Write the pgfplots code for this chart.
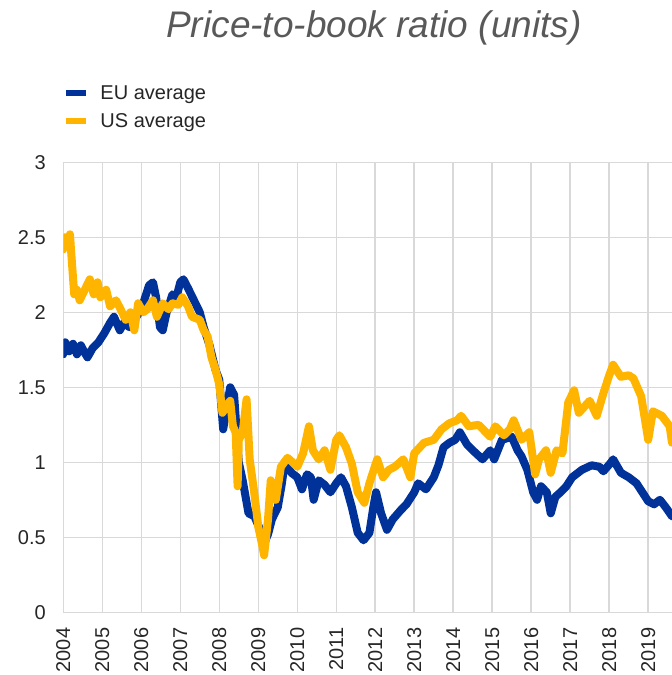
\documentclass[border=0pt]{standalone}
\usepackage{pgfplots}
\pgfplotsset{compat=1.18}
\usepackage{fontspec}
\setmainfont{Liberation Sans}
\definecolor{eublue}{HTML}{003299}
\definecolor{usyellow}{HTML}{FFB400}
\definecolor{gridgray}{HTML}{D9D9D9}
\definecolor{textgray}{HTML}{262626}
\definecolor{titlegray}{HTML}{595959}
\begin{document}
\begin{tikzpicture}
\path[use as bounding box] (-63.3bp,-62.7bp) rectangle (608.7bp,612.3bp);
\begin{axis}[
  at={(0,0)}, anchor=south west,
  scale only axis,
  width=608.7bp, height=450bp,
  xmin=2004, xmax=2019.61,
  ymin=0, ymax=3,
  xtick={2004,2005,...,2019},
  ytick={0,0.5,1,1.5,2,2.5,3},
  /pgf/number format/1000 sep={},
  /pgf/number format/assume math mode=true,
  axis x line=bottom, axis y line=left,
  axis line style={draw=gridgray, line width=1.5bp, -},
  grid=major,
  major grid style={draw=gridgray, line width=1.5bp},
  major tick length=0pt,
  tick label style={font=\fontsize{20bp}{24bp}\selectfont, text=textgray},
  yticklabel shift=14bp,
  xticklabel shift=12bp,
  xticklabel style={rotate=90, anchor=east},
  legend style={at={(0,1.176)}, anchor=north west, draw=none, fill=none,
    font=\fontsize{20bp}{24bp}\selectfont, text=textgray, row sep=9bp, inner sep=0pt,
    /tikz/every odd column/.append style={column sep=9bp}},
  legend cell align=left,
  legend image code/.code={\draw[#1, line width=6bp, line cap=butt] (0bp,0bp) -- (20bp,0bp);},
  every axis plot/.append style={line width=8bp, line join=round, line cap=round},
]
\addplot[eublue] table {
2004.00 1.72
2004.05 1.80
2004.15 1.74
2004.25 1.79
2004.35 1.72
2004.45 1.78
2004.55 1.73
2004.62 1.70
2004.75 1.76
2004.90 1.80
2005.05 1.86
2005.20 1.93
2005.30 1.97
2005.45 1.88
2005.55 1.93
2005.70 1.90
2005.85 1.96
2006.00 2.02
2006.10 2.10
2006.20 2.18
2006.30 2.20
2006.38 2.10
2006.48 1.90
2006.55 1.88
2006.65 2.00
2006.80 2.12
2006.90 2.10
2007.00 2.20
2007.08 2.22
2007.20 2.16
2007.35 2.08
2007.50 2.00
2007.60 1.90
2007.75 1.78
2007.90 1.62
2008.00 1.55
2008.10 1.22
2008.18 1.35
2008.28 1.50
2008.38 1.45
2008.50 1.00
2008.60 0.88
2008.75 0.66
2008.90 0.64
2009.05 0.55
2009.15 0.46
2009.25 0.52
2009.35 0.62
2009.50 0.70
2009.60 0.85
2009.68 1.00
2009.85 0.93
2010.00 0.90
2010.12 0.82
2010.25 0.92
2010.35 0.90
2010.42 0.75
2010.55 0.88
2010.70 0.85
2010.85 0.80
2011.00 0.86
2011.12 0.90
2011.25 0.84
2011.40 0.70
2011.55 0.53
2011.70 0.48
2011.85 0.53
2011.95 0.70
2012.02 0.80
2012.15 0.66
2012.30 0.55
2012.45 0.62
2012.65 0.68
2012.80 0.72
2013.00 0.80
2013.10 0.86
2013.30 0.82
2013.50 0.90
2013.62 0.98
2013.75 1.10
2013.90 1.13
2014.05 1.15
2014.17 1.20
2014.35 1.12
2014.50 1.08
2014.75 1.02
2014.95 1.08
2015.05 1.02
2015.25 1.15
2015.50 1.17
2015.65 1.08
2015.75 1.04
2015.90 0.95
2016.05 0.80
2016.15 0.75
2016.25 0.84
2016.40 0.80
2016.50 0.66
2016.62 0.77
2016.75 0.80
2016.90 0.84
2017.05 0.90
2017.30 0.95
2017.55 0.98
2017.75 0.97
2017.85 0.94
2018.05 1.00
2018.10 1.02
2018.30 0.93
2018.50 0.90
2018.70 0.86
2018.85 0.80
2019.00 0.74
2019.15 0.72
2019.30 0.75
2019.45 0.70
2019.61 0.64
};
\addlegendentry{EU average}
\addplot[usyellow] table {
2004.00 2.42
2004.05 2.50
2004.12 2.47
2004.17 2.52
2004.23 2.30
2004.28 2.12
2004.35 2.15
2004.42 2.08
2004.55 2.15
2004.68 2.22
2004.78 2.12
2004.88 2.20
2004.95 2.10
2005.10 2.15
2005.20 2.04
2005.35 2.08
2005.45 2.03
2005.60 1.95
2005.72 2.00
2005.82 1.88
2005.92 2.06
2006.05 2.00
2006.15 2.02
2006.30 2.08
2006.40 1.97
2006.55 2.06
2006.70 2.02
2006.80 2.06
2006.95 2.05
2007.05 2.10
2007.20 2.04
2007.30 1.97
2007.50 1.95
2007.60 1.88
2007.70 1.84
2007.80 1.70
2007.90 1.62
2008.00 1.52
2008.08 1.33
2008.20 1.38
2008.28 1.41
2008.35 1.24
2008.42 1.20
2008.47 0.84
2008.50 1.15
2008.60 1.20
2008.70 1.42
2008.78 1.02
2008.90 0.79
2009.00 0.57
2009.10 0.45
2009.15 0.38
2009.25 0.62
2009.32 0.88
2009.45 0.75
2009.58 0.97
2009.75 1.03
2009.88 1.00
2010.00 0.97
2010.15 1.06
2010.30 1.24
2010.40 1.08
2010.55 1.02
2010.70 1.08
2010.85 0.95
2011.00 1.15
2011.08 1.18
2011.25 1.10
2011.40 0.99
2011.55 0.80
2011.72 0.73
2011.85 0.86
2012.05 1.02
2012.20 0.90
2012.35 0.95
2012.50 0.97
2012.72 1.02
2012.90 0.90
2013.00 1.06
2013.25 1.13
2013.50 1.15
2013.70 1.22
2013.90 1.26
2014.10 1.28
2014.20 1.31
2014.40 1.24
2014.65 1.25
2014.95 1.17
2015.08 1.24
2015.30 1.18
2015.45 1.22
2015.55 1.28
2015.75 1.15
2015.95 1.20
2016.10 0.92
2016.20 1.02
2016.38 1.08
2016.50 0.93
2016.65 1.08
2016.80 1.06
2016.95 1.40
2017.10 1.48
2017.22 1.33
2017.50 1.41
2017.68 1.31
2017.85 1.46
2018.00 1.58
2018.10 1.65
2018.30 1.57
2018.50 1.58
2018.62 1.56
2018.82 1.44
2019.00 1.15
2019.12 1.34
2019.35 1.31
2019.55 1.24
2019.61 1.13
};
\addlegendentry{US average}
\end{axis}
\node[font=\fontsize{37bp}{42bp}\selectfont\itshape, text=titlegray, anchor=base] at (310.7bp,575bp) {Price-to-book ratio (units)};
\end{tikzpicture}
\end{document}
